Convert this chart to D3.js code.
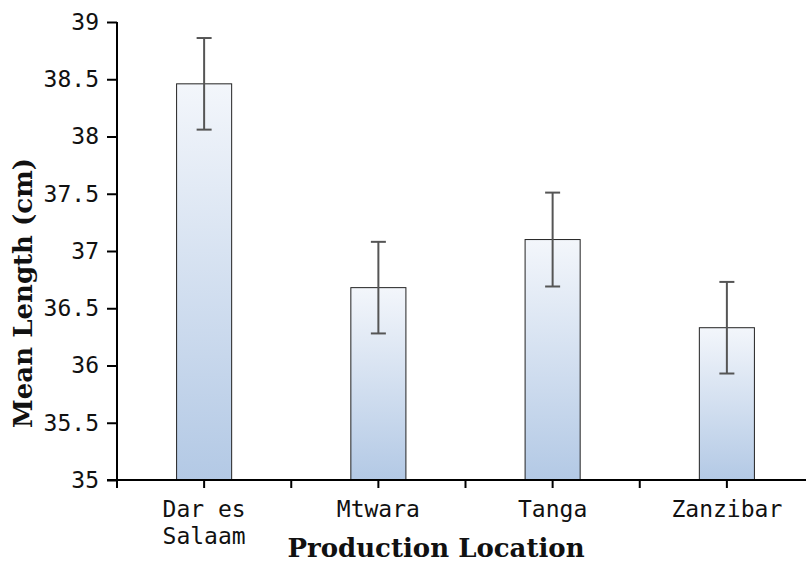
<!DOCTYPE html>
<html>
<head>
<meta charset="utf-8">
<script src="https://cdn.jsdelivr.net/npm/d3@7"></script>
<style>
  html, body { margin: 0; padding: 0; background: #fff; }
  svg { display: block; }
</style>
</head>
<body>
<svg id="chart" width="806" height="566"></svg>
<script>
// Mean fish length by production location, with error bars
const locations = ["Dar es Salaam", "Mtwara", "Tanga", "Zanzibar"];
const locationLines = [["Dar es", "Salaam"], ["Mtwara"], ["Tanga"], ["Zanzibar"]];
const meanLength = [38.46, 36.68, 37.10, 36.33];
const errorLength = [0.40, 0.40, 0.41, 0.40];
const yTicks = [35, 35.5, 36, 36.5, 37, 37.5, 38, 38.5, 39];

const svg = d3.select("#chart");
const margin = { left: 117, top: 22, bottom: 480 };
const plotRight = 814;

const x = d3.scaleBand()
  .domain(locations)
  .range([margin.left, plotRight])
  .paddingInner(0)
  .paddingOuter(0);

const y = d3.scaleLinear()
  .domain([35, 39])
  .range([margin.bottom, margin.top]);

const barWidth = x.bandwidth() * 0.316;

// Vertical gradient for bar fill
const defs = svg.append("defs");
const grad = defs.append("linearGradient")
  .attr("id", "barFill")
  .attr("x1", 0).attr("y1", 0).attr("x2", 0).attr("y2", 1);
grad.append("stop").attr("offset", "0%").attr("stop-color", "#f3f6fb");
grad.append("stop").attr("offset", "100%").attr("stop-color", "#b3c9e5");

const monoFont = "'DejaVu Sans Mono', monospace";
const serifFont = "'DejaVu Serif', serif";

// Bars
svg.append("g").selectAll("rect")
  .data(locations)
  .join("rect")
  .attr("x", (d) => x(d) + x.bandwidth() / 2 - barWidth / 2)
  .attr("width", barWidth)
  .attr("y", (d, i) => y(meanLength[i]))
  .attr("height", (d, i) => y(35) - y(meanLength[i]))
  .attr("fill", "url(#barFill)")
  .attr("stroke", "#222")
  .attr("stroke-width", 1);

// Error bars
const err = svg.append("g")
  .attr("stroke", "#555")
  .attr("stroke-width", 2);
locations.forEach((d, i) => {
  const cx = x(d) + x.bandwidth() / 2;
  const hi = y(meanLength[i] + errorLength[i]);
  const lo = y(meanLength[i] - errorLength[i]);
  err.append("line").attr("x1", cx).attr("x2", cx).attr("y1", hi).attr("y2", lo);
  err.append("line").attr("x1", cx - 7.5).attr("x2", cx + 7.5).attr("y1", hi).attr("y2", hi);
  err.append("line").attr("x1", cx - 7.5).attr("x2", cx + 7.5).attr("y1", lo).attr("y2", lo);
});

// Y axis
const yAxis = svg.append("g")
  .attr("transform", `translate(${margin.left},0)`)
  .call(d3.axisLeft(y).tickValues(yTicks).tickSize(10).tickPadding(8)
    .tickFormat((d) => String(d)));
yAxis.select(".domain").attr("stroke", "#000").attr("stroke-width", 2)
  .attr("d", `M0,${margin.top}V${margin.bottom}`);
yAxis.selectAll(".tick line").attr("stroke", "#000").attr("stroke-width", 2);
yAxis.selectAll(".tick text")
  .attr("font-family", monoFont)
  .attr("font-size", 23)
  .attr("fill", "#111");

// X axis: ticks at band centers and band boundaries
const xAxisG = svg.append("g").attr("transform", `translate(0,${margin.bottom})`);
xAxisG.append("line")
  .attr("x1", margin.left - 10).attr("x2", 806)
  .attr("y1", 0).attr("y2", 0)
  .attr("stroke", "#000").attr("stroke-width", 2);
const tickXs = [];
locations.forEach((d) => {
  tickXs.push(x(d));
  tickXs.push(x(d) + x.bandwidth() / 2);
});
xAxisG.selectAll("line.tick")
  .data(tickXs)
  .join("line")
  .attr("class", "tick")
  .attr("x1", (d) => d).attr("x2", (d) => d)
  .attr("y1", 0).attr("y2", 8)
  .attr("stroke", "#000").attr("stroke-width", 2);

// X tick labels
locations.forEach((d, i) => {
  const t = xAxisG.append("text")
    .attr("x", x(d) + x.bandwidth() / 2)
    .attr("y", 37)
    .attr("text-anchor", "middle")
    .attr("font-family", monoFont)
    .attr("font-size", 23)
    .attr("fill", "#111");
  locationLines[i].forEach((line, j) => {
    t.append("tspan")
      .attr("x", x(d) + x.bandwidth() / 2)
      .attr("dy", j === 0 ? 0 : 27)
      .text(line);
  });
});

// Axis titles
svg.append("text")
  .attr("x", 436)
  .attr("y", 557)
  .attr("text-anchor", "middle")
  .attr("font-family", serifFont)
  .attr("font-weight", "bold")
  .attr("font-size", 26)
  .attr("fill", "#111")
  .text("Production Location");

svg.append("text")
  .attr("transform", "translate(32,293) rotate(-90)")
  .attr("text-anchor", "middle")
  .attr("font-family", serifFont)
  .attr("font-weight", "bold")
  .attr("font-size", 26)
  .attr("fill", "#111")
  .text("Mean Length (cm)");
</script>
</body>
</html>
